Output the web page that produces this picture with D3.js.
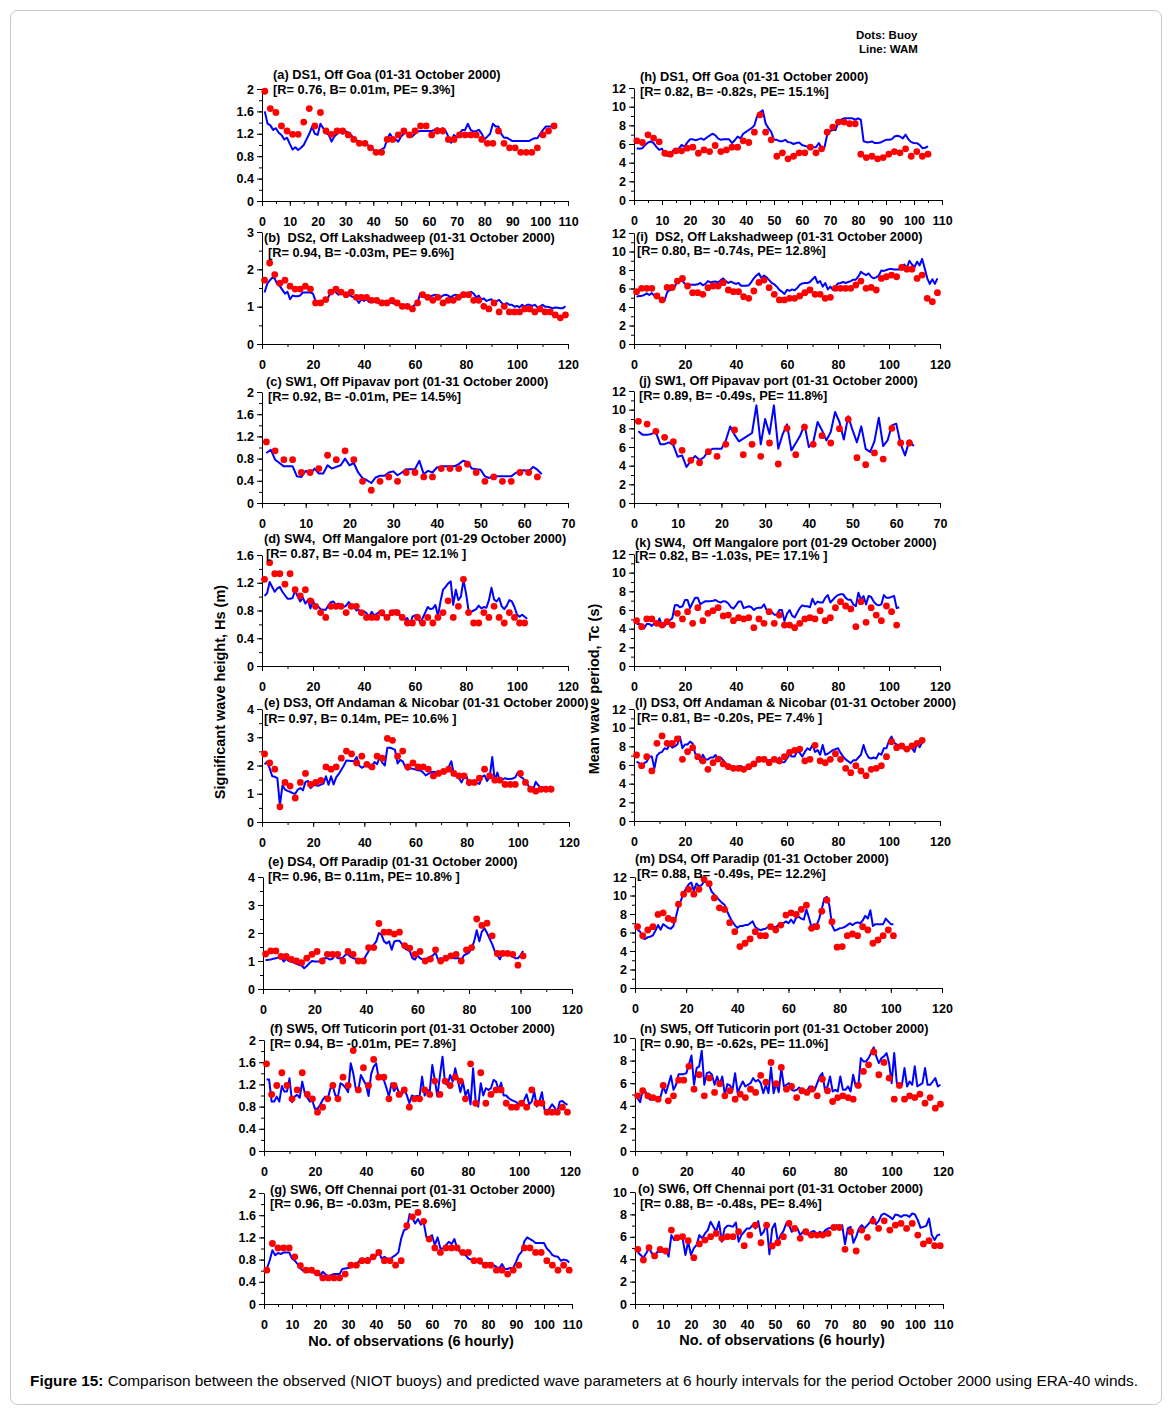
<!DOCTYPE html>
<html><head><meta charset="utf-8">
<script src="https://cdn.jsdelivr.net/npm/d3@7"></script>
<style>
html,body{margin:0;padding:0;background:#fff;}
svg{display:block;font-family:"Liberation Sans",Arial,sans-serif;}
</style></head><body>
<svg id="chart" width="1173" height="1422"></svg>
<script>
// ---------- Data: buoy (dots, every 2nd observation starting at 1) and WAM (line, every observation) ----------
// Significant wave height Hs (m)
const hsDS1Buoy=[1.96,1.65,1.58,1.34,1.25,1.19,1.19,1.41,1.65,1.34,1.58,1.25,1.19,1.25,1.25,1.18,1.10,1.03,1.03,0.95,0.87,0.87,1.10,1.10,1.18,1.25,1.18,1.25,1.34,1.34,1.18,1.25,1.25,1.10,1.10,1.18,1.18,1.18,1.18,1.10,1.03,1.03,1.25,1.03,0.95,0.95,0.87,0.87,0.87,0.95,1.18,1.25,1.34];
const hsDS1Wam=[1.6,1.38,1.35,1.27,1.3,1.22,1.18,1.1,1.13,1.02,0.92,0.96,0.91,0.95,1.0,1.1,1.2,1.33,1.2,1.18,1.38,1.3,1.22,1.18,1.06,1.15,1.2,1.24,1.2,1.25,1.22,1.18,1.12,1.08,1.06,1.04,1.03,1.0,0.97,0.92,0.86,0.9,0.92,0.95,1.1,1.2,1.12,1.1,1.06,1.15,1.2,1.22,1.18,1.15,1.2,1.24,1.25,1.25,1.25,1.25,1.25,1.27,1.3,1.27,1.3,1.25,1.15,1.04,1.18,1.13,1.2,1.27,1.27,1.38,1.27,1.24,1.25,1.27,1.2,1.1,1.15,1.2,1.38,1.33,1.33,1.2,1.13,1.13,1.1,1.07,1.07,1.07,1.07,1.07,1.07,1.07,1.1,1.12,1.12,1.2,1.27,1.33,1.33,1.33,1.35];
const hsDS2Buoy=[1.71,2.17,1.86,1.63,1.71,1.55,1.47,1.47,1.55,1.47,1.10,1.10,1.19,1.39,1.47,1.39,1.32,1.39,1.25,1.25,1.25,1.17,1.17,1.10,1.10,1.17,1.10,1.01,1.01,0.94,1.10,1.32,1.25,1.17,1.25,1.10,1.17,1.17,1.25,1.32,1.32,1.17,1.17,1.01,0.94,1.10,0.86,1.01,0.86,0.86,0.86,0.94,0.94,0.86,0.94,0.86,0.86,0.78,0.70,0.78];
const hsDS2Wam=[1.38,1.6,1.7,1.78,1.75,1.6,1.55,1.45,1.35,1.4,1.2,1.3,1.28,1.28,1.3,1.38,1.38,1.38,1.38,1.35,1.15,1.12,1.15,1.15,1.2,1.25,1.4,1.45,1.38,1.32,1.38,1.35,1.3,1.32,1.28,1.25,1.2,1.1,1.2,1.15,1.2,1.12,1.15,1.15,1.12,1.1,1.12,1.08,1.1,1.12,1.1,1.08,1.05,1.05,1.03,1.05,1.0,0.98,1.0,1.05,1.1,1.35,1.3,1.25,1.3,1.28,1.3,1.32,1.3,1.25,1.3,1.32,1.3,1.25,1.3,1.32,1.28,1.3,1.38,1.35,1.35,1.4,1.35,1.25,1.3,1.2,1.22,1.15,1.18,1.2,1.1,1.15,1.18,1.1,1.05,1.1,1.05,1.05,1.0,1.02,0.98,1.05,1.0,1.05,1.05,1.02,1.05,0.98,1.0,1.05,1.0,1.0,0.98,0.95,0.98,0.97,0.96,0.96,1.01];
const hsSW1Buoy=[1.10,0.94,0.78,0.78,0.55,0.55,0.62,0.86,0.78,0.94,0.78,0.39,0.23,0.39,0.47,0.39,0.55,0.55,0.47,0.47,0.62,0.62,0.62,0.70,0.55,0.39,0.47,0.39,0.39,0.55,0.55,0.47];
const hsSW1Wam=[0.90,0.96,0.78,0.72,0.66,0.66,0.66,0.48,0.47,0.58,0.52,0.62,0.53,0.53,0.68,0.62,0.65,0.68,0.80,0.68,0.72,0.55,0.45,0.41,0.36,0.46,0.49,0.49,0.55,0.57,0.50,0.55,0.61,0.61,0.61,0.76,0.52,0.58,0.55,0.64,0.66,0.66,0.66,0.66,0.70,0.76,0.74,0.62,0.61,0.60,0.48,0.45,0.50,0.48,0.48,0.48,0.48,0.54,0.58,0.59,0.57,0.65,0.60,0.52];
const hsSW4Buoy=[1.25,1.49,1.33,1.33,1.18,1.33,1.10,1.01,1.10,0.94,0.86,0.77,0.70,0.86,0.86,0.86,0.77,0.86,0.86,0.77,0.70,0.70,0.70,0.77,0.70,0.77,0.77,0.70,0.62,0.62,0.70,0.62,0.70,0.62,0.70,0.77,0.94,0.70,0.86,1.25,0.77,0.62,0.62,0.77,0.70,0.86,0.70,0.62,0.77,0.70,0.62,0.62];
const hsSW4Wam=[1.01,1.05,1.21,1.14,1.07,1.12,1.14,1.07,1.02,0.97,0.97,0.98,1.09,1.0,0.93,0.99,0.9,0.95,0.83,0.95,0.83,0.86,0.82,0.81,0.81,0.87,0.92,0.93,0.88,0.9,0.86,0.85,0.87,0.92,0.88,0.85,0.8,0.81,0.76,0.79,0.76,0.71,0.78,0.73,0.75,0.78,0.73,0.73,0.71,0.72,0.78,0.8,0.8,0.73,0.73,0.67,0.69,0.59,0.71,0.73,0.74,0.62,0.69,0.77,0.85,0.82,0.83,0.88,0.72,0.93,1.1,1.14,1.19,1.22,0.88,1.1,0.95,1.0,1.24,1.05,0.8,0.78,0.8,0.82,0.87,0.83,0.85,0.84,0.95,1.13,0.96,0.93,0.98,0.86,0.82,0.87,0.95,0.93,0.85,0.74,0.71,0.74,0.71,0.68];
const hsDS3Buoy=[2.41,2.09,1.87,0.54,1.40,1.27,0.85,1.40,1.72,1.33,1.40,1.47,1.95,1.87,1.95,2.26,2.51,2.41,2.09,2.33,2.04,1.95,2.33,2.26,2.96,2.89,2.33,2.51,1.95,2.09,1.95,1.95,1.87,1.63,1.72,1.79,1.87,1.72,1.63,1.63,1.40,1.40,1.55,1.87,1.63,1.48,1.48,1.33,1.33,1.33,1.72,1.40,1.16,1.09,1.16,1.16,1.16];
const hsDS3Wam=[2.04,2.13,1.9,1.62,1.6,1.55,0.6,1.3,1.15,1.1,1.07,1.02,1.0,1.15,1.2,1.12,1.42,1.45,1.2,1.3,1.3,1.28,1.32,1.36,1.62,1.32,1.62,1.33,1.58,1.7,1.85,2.0,2.18,2.17,2.16,2.15,2.3,2.0,1.92,1.97,2.12,1.92,2.0,2.12,2.05,2.3,2.1,2.0,2.63,2.63,2.6,2.55,2.07,2.2,2.15,1.95,1.85,1.9,1.88,1.86,1.83,1.82,1.75,1.65,1.7,1.76,1.78,1.76,1.74,1.76,1.76,1.76,1.95,2.15,1.7,1.62,1.55,1.4,1.6,1.6,1.3,1.42,1.42,1.38,1.35,1.6,1.65,1.45,1.6,2.3,1.45,1.75,1.45,1.5,1.55,1.52,1.52,1.54,1.58,1.75,1.6,1.55,1.42,1.3,1.15,1.15,1.42,1.3,1.2,1.22,1.2,1.2,1.27];
const hsDS4Buoy=[1.25,1.36,1.36,1.16,1.16,1.06,1.0,0.94,1.1,1.24,1.34,1.0,1.24,1.24,1.24,1.0,1.34,1.24,1.0,1.0,1.48,1.48,2.34,2.03,2.03,1.96,2.03,1.55,1.46,1.24,1.34,1.0,1.07,1.4,1.0,1.1,1.18,1.24,1.0,1.4,1.48,2.5,2.27,2.35,1.9,1.27,1.27,1.27,1.24,0.85,1.18];
const hsDS4Wam=[1.04,1.04,1.05,1.08,1.1,1.12,1.16,0.98,1.08,1.0,0.98,0.94,0.9,0.86,0.84,0.74,0.82,0.92,1.0,0.98,0.98,0.98,1.08,1.1,1.1,1.05,1.08,1.22,1.1,1.1,1.12,1.22,1.24,1.15,1.1,1.08,1.04,1.02,1.0,1.2,1.35,1.5,1.58,1.7,2.0,1.94,1.7,1.63,1.7,1.4,1.7,1.72,1.72,1.6,1.46,1.4,1.35,1.1,1.05,1.2,1.1,1.05,1.04,1.1,1.15,1.2,1.3,1.04,1.1,1.08,1.08,1.1,1.15,1.1,1.1,1.1,1.04,1.2,1.25,1.3,1.45,1.7,2.1,1.7,2.05,2.17,2.0,1.8,1.6,1.35,1.2,1.06,1.28,1.22,1.28,1.2,1.15,1.1,1.1,1.2,1.36];
const hsSW5Buoy=[1.57,1.02,1.18,1.41,1.18,0.94,1.10,1.41,1.02,0.94,0.70,0.79,0.94,1.18,0.94,1.33,1.18,1.81,1.10,1.50,1.18,1.65,1.33,1.33,0.94,1.18,1.02,1.10,0.79,0.94,0.94,1.10,1.02,1.26,1.02,1.26,1.18,1.33,1.26,0.94,1.57,0.86,1.41,0.86,1.02,1.10,1.10,0.86,0.79,0.79,0.86,0.79,1.10,0.86,0.86,0.70,0.70,0.70,0.79,0.70];
const hsSW5Wam=[1.29,1.29,0.89,0.89,0.98,0.89,1.17,1.07,1.07,1.31,0.88,0.98,1.01,0.96,1.25,1.04,0.96,0.89,0.9,0.76,0.76,0.83,0.92,0.98,0.94,1.12,1.16,1.0,0.98,1.22,1.19,1.14,1.06,1.58,1.4,1.12,1.1,1.37,1.28,1.19,0.99,1.38,1.52,1.58,1.3,1.31,1.28,1.14,0.98,1.22,1.08,1.16,1.04,1.02,1.1,1.01,0.86,1.0,0.98,0.99,0.98,1.34,1.0,1.1,1.08,1.55,1.28,0.98,1.36,1.7,1.22,1.19,1.37,1.25,1.49,1.28,1.06,1.25,1.0,1.1,0.84,1.49,0.9,0.8,1.22,1.0,1.13,1.1,1.13,1.28,1.25,1.1,1.23,1.0,1.0,0.95,0.92,0.9,0.88,0.83,0.84,0.92,1.02,0.84,0.89,1.07,0.8,0.89,1.06,0.74,0.71,0.77,0.84,0.78,0.7,0.89,0.9,0.86,0.83];
const hsSW6Buoy=[0.61,1.09,1.01,1.01,1.01,0.85,0.69,0.61,0.61,0.56,0.47,0.47,0.47,0.47,0.54,0.70,0.70,0.78,0.78,0.85,0.93,0.78,0.78,0.70,0.78,1.41,1.57,1.65,1.49,1.17,1.01,0.93,1.01,1.01,1.01,0.93,0.93,0.78,0.78,0.70,0.70,0.61,0.61,0.54,0.61,0.70,1.01,1.01,0.93,0.93,0.78,0.70,0.61,0.70,0.61];
const hsSW6Wam=[0.63,0.78,0.97,0.88,0.92,0.9,0.93,0.93,0.93,0.82,0.78,0.72,0.64,0.6,0.58,0.58,0.58,0.56,0.58,0.51,0.58,0.53,0.5,0.52,0.54,0.54,0.54,0.63,0.64,0.65,0.66,0.69,0.72,0.77,0.82,0.8,0.83,0.8,0.86,0.87,0.94,0.82,0.85,0.82,0.8,0.85,0.88,0.93,1.18,1.33,1.35,1.62,1.55,1.45,1.53,1.43,1.48,1.2,1.2,1.24,1.06,1.2,1.0,1.0,1.06,1.12,1.08,1.17,1.0,0.94,0.91,0.88,0.82,0.8,0.78,0.78,0.73,0.73,0.73,0.73,0.73,0.7,0.67,0.64,0.72,0.63,0.63,0.65,0.65,0.76,0.88,0.94,1.13,1.2,1.17,1.14,1.1,1.1,1.1,1.1,1.0,0.95,0.88,0.86,0.85,0.78,0.8,0.79,0.75];
// Mean wave period Tc (s)
const tcDS1Buoy=[6.34,6.16,6.98,6.63,6.23,5.01,4.91,5.27,5.27,5.55,5.66,5.01,5.37,5.19,5.84,5.19,5.37,5.66,5.66,6.34,6.16,7.27,9.13,7.27,6.45,4.69,5.05,4.41,4.69,5.05,5.05,5.66,5.05,5.48,7.27,7.81,8.35,8.35,8.17,8.17,4.91,4.55,4.69,4.41,4.55,4.91,5.19,5.05,5.48,4.69,5.19,4.69,4.91];
const tcDS1Wam=[5.55,5.5,5.55,5.9,6.16,6.27,6.1,5.7,5.37,5.5,4.84,4.73,4.8,5.3,5.4,5.5,5.9,5.7,6.15,6.5,6.5,6.4,6.5,6.6,6.45,6.7,6.9,7.1,6.95,6.6,6.45,6.5,6.5,6.5,6.1,6.4,6.8,6.6,7.1,7.3,7.5,7.7,8.0,9.0,9.4,9.6,8.2,7.7,7.3,6.45,6.45,6.3,6.3,6.45,6.2,6.15,6.0,6.1,6.15,5.9,5.8,5.7,5.65,5.65,5.65,6.1,5.6,5.6,7.0,7.4,7.5,7.5,8.4,8.6,8.75,8.77,8.77,8.75,8.6,8.75,8.6,6.3,6.2,6.2,6.27,6.1,6.1,6.15,6.3,6.45,6.45,6.5,6.8,6.88,6.8,6.6,7.0,6.5,6.2,6.1,6.09,5.9,5.55,5.6,5.75];
const tcDS2Buoy=[5.66,6.02,6.02,6.02,5.19,4.76,6.12,6.12,6.8,7.09,6.27,5.55,5.55,5.37,6.09,6.27,6.27,6.63,5.84,5.66,5.66,5.12,4.94,5.73,6.66,6.91,6.09,5.37,4.76,4.76,4.94,4.94,5.19,5.55,5.84,5.37,5.37,4.94,5.05,6.02,6.02,6.02,6.02,6.38,6.8,6.02,6.12,5.84,7.09,7.27,7.45,7.27,8.27,8.09,8.09,7.09,7.45,4.94,4.58,5.55];
const tcDS2Wam=[5.12,5.18,5.2,5.3,5.48,5.3,5.5,5.2,5.3,4.95,4.6,4.7,5.6,5.84,5.9,6.2,6.8,6.8,6.8,6.5,6.25,6.4,6.4,6.4,6.45,6.6,6.35,6.5,6.8,6.65,6.72,6.75,6.65,6.9,7.09,6.8,6.6,6.75,6.6,6.5,6.6,6.3,6.3,6.3,6.35,6.7,7.1,7.4,7.63,7.1,7.4,7.2,6.9,6.6,6.45,6.2,5.85,5.66,5.4,5.85,5.75,5.9,5.8,6.05,6.4,6.55,6.6,6.6,6.7,7.0,7.27,6.6,6.8,6.2,6.6,5.9,6.2,5.85,6.2,6.55,6.6,6.7,6.6,6.7,6.8,6.95,6.95,7.3,7.8,7.6,7.45,7.63,7.27,7.1,7.2,7.4,7.95,7.9,8.0,8.1,8.1,8.06,8.06,8.06,8.4,8.6,8.2,9.0,8.6,8.3,8.9,8.5,9.2,8.2,7.1,6.5,7.0,6.5,7.1];
const tcSW1Buoy=[8.75,8.46,7.68,7.04,6.57,5.64,4.57,4.32,5.5,5.0,6.29,7.82,5.18,6.29,5.0,6.43,4.18,8.0,5.18,8.14,6.29,7.21,6.43,7.96,8.96,4.86,4.11,5.36,4.71,8.0,6.43,6.43];
const tcSW1Wam=[7.68,7.3,7.3,7.4,7.6,6.3,6.3,6.5,6.2,4.95,5.1,3.86,4.5,5.04,4.6,4.9,5.6,5.8,5.8,5.8,6.7,8.2,7.3,6.6,6.9,7.2,7.5,10.46,6.29,9.0,7.4,10.46,5.82,7.36,8.43,5.64,6.4,7.2,8.4,6.0,6.5,8.68,7.8,6.7,7.6,9.75,8.68,6.8,9.29,7.8,6.5,8.21,5.8,5.46,6.6,9.14,6.1,6.7,8.32,8.5,6.3,5.1,6.71,6.1];
const tcSW4Buoy=[4.86,4.21,5.04,5.04,4.57,4.39,4.75,4.39,5.64,5.04,5.82,4.57,6.25,4.86,5.64,5.93,6.25,5.36,5.46,4.86,5.18,5.04,5.18,4.11,5.04,4.57,5.82,4.57,5.46,4.39,4.39,4.11,4.57,5.04,5.18,5.04,5.93,4.86,5.18,6.25,6.89,6.43,6.11,4.21,6.89,4.68,6.25,5.46,4.86,6.43,5.82,4.39];
const tcSW4Wam=[4.5,4.5,4.45,4.04,4.5,4.5,4.3,4.6,4.5,5.1,4.2,4.3,4.7,4.9,5.1,6.5,6.54,6.3,6.4,7.07,7.07,6.2,6.8,7.32,7.32,6.6,6.8,6.95,6.95,6.95,7.0,7.07,6.9,6.8,6.95,6.9,6.7,6.3,6.15,6.5,6.9,6.9,6.2,6.3,6.4,6.3,6.0,6.2,6.25,6.25,6.6,6.0,5.7,5.8,5.5,5.5,6.0,6.0,4.8,5.6,6.0,5.4,5.2,5.7,6.2,6.5,6.4,6.4,6.3,7.2,6.6,6.9,6.8,6.8,7.3,7.6,6.8,7.1,7.4,7.6,7.7,7.7,7.3,7.1,7.1,6.6,6.4,7.86,7.1,7.5,6.6,7.5,7.4,6.9,6.6,6.5,6.6,7.6,7.3,7.3,7.4,7.5,6.2,6.3];
const tcDS3Buoy=[7.07,5.93,6.89,5.36,8.32,9.11,8.32,8.32,8.79,6.61,7.43,7.86,6.89,6.43,5.54,6.25,6.64,6.11,5.82,5.64,5.64,5.54,5.82,6.11,6.61,6.61,6.25,6.61,6.43,6.89,7.36,7.57,7.71,6.43,6.61,8.11,6.43,6.25,6.61,7.21,6.61,5.64,5.18,5.93,5.36,4.86,5.54,5.64,5.93,6.89,8.5,7.86,8.04,7.71,8.04,8.32,8.64];
const tcDS3Wam=[6.36,6.2,5.82,6.2,6.36,6.9,6.9,5.64,7.0,7.3,7.4,7.8,7.7,8.2,7.85,8.0,8.2,9.04,7.8,8.2,8.2,8.5,8.3,7.2,7.0,6.4,7.1,6.6,6.6,6.8,6.8,7.07,6.6,6.8,6.5,6.15,5.98,5.82,5.9,5.64,5.8,5.9,5.7,5.78,5.9,5.98,6.2,6.36,6.4,6.5,6.6,6.5,6.5,6.5,6.7,6.36,6.8,6.3,6.3,6.7,7.1,6.9,6.9,7.5,7.3,6.9,7.4,7.8,7.6,8.14,7.4,7.6,7.1,8.14,7.1,7.2,7.4,7.6,7.7,7.8,7.3,6.9,6.6,6.4,6.2,6.5,6.5,6.8,7.1,8.14,7.3,6.8,6.7,6.8,6.7,7.25,7.1,7.8,7.8,8.6,9.04,8.4,8.2,8.1,7.9,7.7,7.5,7.8,7.8,7.4,8.4,7.9,8.4];
const tcDS4Buoy=[6.63,5.66,6.27,6.63,7.95,8.13,7.52,7.34,9.06,10.14,10.67,10.14,10.67,11.75,11.28,9.74,8.67,8.49,7.06,6.09,4.48,4.84,5.3,6.09,5.66,5.66,6.63,6.27,6.8,7.88,8.13,7.95,8.49,8.95,6.45,6.63,8.31,9.49,7.16,4.41,4.48,5.66,5.84,5.66,6.63,6.27,4.84,5.19,5.66,6.27,5.66];
const tcDS4Wam=[6.27,6.1,5.37,5.3,5.5,5.55,5.7,6.2,6.8,6.3,6.9,6.7,6.5,6.4,6.7,7.7,8.8,9.5,10.2,10.8,11.2,11.4,10.5,11.3,11.0,11.1,11.53,11.4,11.1,10.4,10.1,9.8,9.5,9.2,9.0,8.3,7.7,7.2,6.8,6.5,6.7,6.7,6.8,6.8,7.0,7.2,6.6,6.4,6.25,6.35,6.4,6.6,6.7,6.6,6.6,6.8,6.6,7.0,7.2,7.0,7.4,7.0,7.6,7.7,7.5,7.4,8.49,7.6,6.6,6.9,6.8,7.5,8.5,9.7,9.85,8.9,6.8,6.2,6.3,6.45,6.5,6.6,6.8,7.0,6.8,7.0,7.1,7.0,7.3,7.8,7.5,8.4,6.7,6.9,6.9,6.9,6.9,7.5,7.2,6.9,6.9];
const tcSW5Buoy=[4.88,5.33,4.88,4.73,4.59,5.8,4.44,4.88,6.27,6.27,7.49,5.47,6.75,4.88,6.45,5.18,5.95,4.88,5.33,4.59,5.03,4.73,5.47,5.18,6.69,6.09,7.84,5.95,7.4,5.47,5.71,4.73,5.33,5.18,5.47,4.88,6.36,5.33,4.38,4.73,4.88,4.73,4.59,5.8,7.04,7.63,8.76,6.75,7.84,6.45,4.59,5.8,4.59,4.88,4.73,5.03,4.23,4.73,3.79,4.14];
const tcSW5Wam=[4.67,4.32,5.41,5.33,4.73,4.53,4.67,4.53,4.53,4.82,5.71,5.12,5.86,6.66,5.41,5.86,6.8,6.8,6.8,6.89,7.63,8.46,5.86,7.34,7.49,8.88,5.86,6.89,6.98,6.75,5.86,6.6,5.86,6.6,4.97,5.92,5.8,5.41,6.89,5.12,5.71,6.15,5.71,5.86,6.0,6.45,6.15,6.3,6.0,5.12,5.86,5.12,7.4,5.12,6.0,5.2,7.34,5.71,5.86,6.0,5.41,5.33,5.41,5.62,5.33,5.27,5.33,5.71,5.71,5.41,6.0,6.6,6.89,5.41,5.71,6.6,5.27,5.41,5.27,6.6,5.41,5.41,5.71,5.27,6.75,5.71,5.71,8.22,7.93,7.93,8.22,8.67,9.17,8.37,7.78,8.22,8.37,8.67,7.78,6.0,8.67,6.0,5.71,5.86,7.34,5.71,6.15,5.86,7.49,5.71,5.86,6.0,7.34,5.86,5.86,6.15,6.45,5.71,5.86];
const tcSW6Buoy=[4.88,3.93,5.03,4.29,4.88,4.73,6.6,5.92,6.01,5.65,4.14,5.36,5.71,6.01,6.3,5.86,6.01,6.01,6.45,5.21,6.15,7.04,5.47,7.04,5.18,5.47,6.01,7.19,6.75,5.86,6.45,6.15,6.15,6.15,6.3,6.83,6.83,4.88,6.45,4.73,6.6,5.95,7.4,6.75,7.43,6.6,7.04,7.19,6.75,7.19,6.15,5.36,5.65,5.21,5.21];
const tcSW6Wam=[4.62,4.38,4.14,4.53,4.97,4.53,4.23,4.67,4.67,4.67,4.82,4.23,6.15,5.71,5.86,6.01,5.86,4.38,5.56,4.38,4.97,5.27,6.15,5.86,6.3,6.6,7.34,6.89,6.45,7.34,5.56,6.75,6.98,6.98,6.89,7.28,5.56,6.15,6.45,6.75,6.75,7.04,6.75,7.4,6.15,6.45,7.19,4.44,6.75,7.19,5.56,6.15,6.51,7.19,7.04,6.45,6.75,6.75,6.15,6.45,6.3,6.15,6.45,6.51,6.15,6.45,6.3,6.6,6.75,6.8,6.75,7.04,6.75,7.04,5.33,6.75,6.89,5.47,6.01,6.75,7.04,6.75,7.04,7.34,7.78,7.1,7.4,7.93,8.08,7.93,7.78,7.57,7.99,7.93,7.78,7.93,7.93,7.78,8.08,7.99,7.49,6.8,6.89,6.98,7.63,6.15,5.71,6.15,6.21];

// ---------- Text ----------
const panelTitles=[
 "(a) DS1, Off Goa (01-31 October 2000)","(b)  DS2, Off Lakshadweep (01-31 October 2000)","(c) SW1, Off Pipavav port (01-31 October 2000)","(d) SW4,  Off Mangalore port (01-29 October 2000)",
 "(e) DS3, Off Andaman & Nicobar (01-31 October 2000)","(e) DS4, Off Paradip (01-31 October 2000)","(f) SW5, Off Tuticorin port (01-31 October 2000)","(g) SW6, Off Chennai port (01-31 October 2000)",
 "(h) DS1, Off Goa (01-31 October 2000)","(i)  DS2, Off Lakshadweep (01-31 October 2000)","(j) SW1, Off Pipavav port (01-31 October 2000)","(k) SW4,  Off Mangalore port (01-29 October 2000)",
 "(l) DS3, Off Andaman & Nicobar (01-31 October 2000)","(m) DS4, Off Paradip (01-31 October 2000)","(n) SW5, Off Tuticorin port (01-31 October 2000)","(o) SW6, Off Chennai port (01-31 October 2000)"];
const panelStats=[
 "[R= 0.76, B= 0.01m, PE= 9.3%]","[R= 0.94, B= -0.03m, PE= 9.6%]","[R= 0.92, B= -0.01m, PE= 14.5%]","[R= 0.87, B= -0.04 m, PE= 12.1% ]",
 "[R= 0.97, B= 0.14m, PE= 10.6% ]","[R= 0.96, B= 0.11m, PE= 10.8% ]","[R= 0.94, B= -0.01m, PE= 7.8%]","[R= 0.96, B= -0.03m, PE= 8.6%]",
 "[R= 0.82, B= -0.82s, PE= 15.1%]","[R= 0.80, B= -0.74s, PE= 12.8%]","[R= 0.89, B= -0.49s, PE= 11.8%]","[R= 0.82, B= -1.03s, PE= 17.1% ]",
 "[R= 0.81, B= -0.20s, PE= 7.4% ]","[R= 0.88, B= -0.49s, PE= 12.2%]","[R= 0.90, B= -0.62s, PE= 11.0%]","[R= 0.88, B= -0.48s, PE= 8.4%]"];
const yLabelLeft="Significant wave height, Hs (m)";
const yLabelRight="Mean wave period, Tc (s)";
const xLabel="No. of observations (6 hourly)";
const legendLines=["Dots: Buoy","Line: WAM"];
const captionBold="Figure 15:";
const captionText=" Comparison between the observed (NIOT buoys) and predicted wave parameters at 6 hourly intervals for the period October 2000 using ERA-40 winds.";

// ---------- Layout (pixel boxes: x at 0, x at xMax, y at yMax, y at 0) ----------
const buoySets=[hsDS1Buoy,hsDS2Buoy,hsSW1Buoy,hsSW4Buoy,hsDS3Buoy,hsDS4Buoy,hsSW5Buoy,hsSW6Buoy,tcDS1Buoy,tcDS2Buoy,tcSW1Buoy,tcSW4Buoy,tcDS3Buoy,tcDS4Buoy,tcSW5Buoy,tcSW6Buoy];
const wamSets=[hsDS1Wam,hsDS2Wam,hsSW1Wam,hsSW4Wam,hsDS3Wam,hsDS4Wam,hsSW5Wam,hsSW6Wam,tcDS1Wam,tcDS2Wam,tcSW1Wam,tcSW4Wam,tcDS3Wam,tcDS4Wam,tcSW5Wam,tcSW6Wam];
const layout=[
 {box:[262,568,89,201],xMax:110,xStep:10,yMax:2,yStep:0.4,yMinor:0.2,t:[273,74],s:[273,89]},
 {box:[262,568,232,344],xMax:120,xStep:20,yMax:3,yStep:1,yMinor:0.5,t:[264,237],s:[268,252]},
 {box:[262,568,392,503],xMax:70,xStep:10,yMax:2,yStep:0.4,yMinor:0.2,t:[266,381],s:[268,396]},
 {box:[262,568,555,666],xMax:120,xStep:20,yMax:1.6,yStep:0.4,yMinor:0.2,t:[264,538],s:[266,553]},
 {box:[262,569,709,822],xMax:120,xStep:20,yMax:4,yStep:1,yMinor:0.5,t:[264,702],s:[264,718]},
 {box:[263,572,877,989],xMax:120,xStep:20,yMax:4,yStep:1,yMinor:0.5,t:[268,861],s:[268,876]},
 {box:[264,570,1040,1151],xMax:120,xStep:20,yMax:2,yStep:0.4,yMinor:0.2,t:[270,1028],s:[270,1043]},
 {box:[264,572,1193,1304],xMax:110,xStep:10,yMax:2,yStep:0.4,yMinor:0.2,t:[270,1189],s:[270,1203]},
 {box:[634,942,88,200],xMax:110,xStep:10,yMax:12,yStep:2,yMinor:1,t:[640,76],s:[640,91]},
 {box:[634,940,233,344],xMax:120,xStep:20,yMax:12,yStep:2,yMinor:1,t:[636,236],s:[637,250]},
 {box:[634,940,391,503],xMax:70,xStep:10,yMax:12,yStep:2,yMinor:1,t:[639,380],s:[639,395]},
 {box:[634,940,554,666],xMax:120,xStep:20,yMax:12,yStep:2,yMinor:1,t:[635,542],s:[635,555]},
 {box:[634,940,709,821],xMax:120,xStep:20,yMax:12,yStep:2,yMinor:1,t:[635,702],s:[637,717]},
 {box:[635,942,877,988],xMax:120,xStep:20,yMax:12,yStep:2,yMinor:1,t:[635,858],s:[637,873]},
 {box:[635,943,1038,1151],xMax:120,xStep:20,yMax:10,yStep:2,yMinor:1,t:[640,1028],s:[640,1043]},
 {box:[635,943,1192,1304],xMax:110,xStep:10,yMax:10,yStep:2,yMinor:1,t:[638,1188],s:[640,1203]}
];

const FONT='"Liberation Sans",Arial,sans-serif';
const fmt=v=>String(+v.toFixed(2));
const svg=d3.select('#chart');

svg.append('rect').attr('x',10.5).attr('y',10.5).attr('width',1151).attr('height',1394).attr('rx',7)
  .attr('fill','#fff').attr('stroke','#c8c8c8').attr('stroke-width',1);

function styleAxis(sel){
  sel.attr('font-family',FONT).attr('font-size',12.5).attr('font-weight','bold');
  sel.selectAll('text').attr('fill','#000');
  sel.selectAll('line').attr('stroke','#000');
  sel.selectAll('.domain').attr('stroke','#000');
}

layout.forEach((L,i)=>{
  const [x0,x1,yT,yB]=L.box;
  const x=d3.scaleLinear().domain([0,L.xMax]).range([x0,x1]);
  const y=d3.scaleLinear().domain([0,L.yMax]).range([yB,yT]);
  const g=svg.append('g');
  const eps=1e-9;
  // minor y ticks
  g.append('g').attr('transform',`translate(${x0},0)`)
    .call(d3.axisLeft(y).tickValues(d3.range(0,L.yMax+eps,L.yMinor)).tickSize(3).tickFormat(''))
    .call(s=>{s.select('.domain').remove();s.selectAll('line').attr('stroke','#000');});
  // major y
  g.append('g').attr('transform',`translate(${x0},0)`)
    .call(d3.axisLeft(y).tickValues(d3.range(0,L.yMax+eps,L.yStep)).tickSize(5).tickSizeOuter(0).tickPadding(3).tickFormat(fmt))
    .call(styleAxis);
  // minor x ticks
  g.append('g').attr('transform',`translate(0,${yB})`)
    .call(d3.axisBottom(x).tickValues(d3.range(0,L.xMax+eps,L.xStep/2)).tickSize(3).tickFormat(''))
    .call(s=>{s.select('.domain').remove();s.selectAll('line').attr('stroke','#000');});
  // major x
  g.append('g').attr('transform',`translate(0,${yB})`)
    .call(d3.axisBottom(x).tickValues(d3.range(0,L.xMax+eps,L.xStep)).tickSize(5).tickSizeOuter(0).tickPadding(11).tickFormat(fmt))
    .call(styleAxis);

  const wam=wamSets[i].map((v,k)=>({x:k+1,y:v}));
  const buoy=buoySets[i].map((v,k)=>({x:2*k+1,y:v}));
  g.append('path').datum(wam)
    .attr('d',d3.line().x(d=>x(d.x)).y(d=>y(d.y)))
    .attr('fill','none').attr('stroke','#0000ff').attr('stroke-width',2).attr('stroke-linejoin','round');
  g.selectAll('circle').data(buoy).join('circle')
    .attr('cx',d=>x(d.x)).attr('cy',d=>y(d.y)).attr('r',3.4).attr('fill','#ff0000');

  g.append('text').attr('x',L.t[0]).attr('y',L.t[1]+4.5).text(panelTitles[i])
    .attr('font-family',FONT).attr('font-size',12.8).attr('font-weight','bold').style('white-space','pre');
  g.append('text').attr('x',L.s[0]).attr('y',L.s[1]+4.5).text(panelStats[i])
    .attr('font-family',FONT).attr('font-size',12.8).attr('font-weight','bold').style('white-space','pre');
});

// axis titles
svg.append('text').attr('transform','translate(225,692) rotate(-90)').attr('text-anchor','middle')
  .attr('font-family',FONT).attr('font-size',14.5).attr('font-weight','bold').text(yLabelLeft);
svg.append('text').attr('transform','translate(599,689) rotate(-90)').attr('text-anchor','middle')
  .attr('font-family',FONT).attr('font-size',14.5).attr('font-weight','bold').text(yLabelRight);
svg.append('text').attr('x',411).attr('y',1346).attr('text-anchor','middle')
  .attr('font-family',FONT).attr('font-size',14.5).attr('font-weight','bold').text(xLabel);
svg.append('text').attr('x',782).attr('y',1345).attr('text-anchor','middle')
  .attr('font-family',FONT).attr('font-size',14.5).attr('font-weight','bold').text(xLabel);

// legend note
legendLines.forEach((t,k)=>{
  svg.append('text').attr('x',k===0?856:859).attr('y',39+k*14)
    .attr('font-family',FONT).attr('font-size',11.5).attr('font-weight','bold').text(t);
});

// caption
const cap=svg.append('text').attr('x',30).attr('y',1386).attr('font-family',FONT).attr('font-size',15)
  .attr('textLength',1108).attr('lengthAdjust','spacingAndGlyphs').style('white-space','pre');
cap.append('tspan').attr('font-weight','bold').text(captionBold);
cap.append('tspan').text(captionText);
</script>
</body></html>
